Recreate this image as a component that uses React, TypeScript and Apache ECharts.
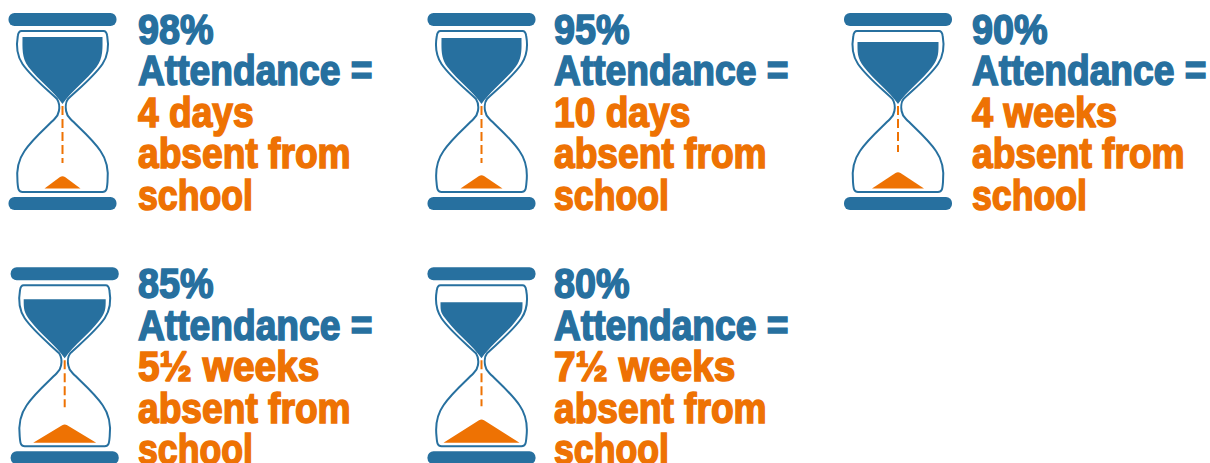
import React, { useEffect, useRef } from "react";
import * as echarts from "echarts";

// Data
const attendance = ["98%", "95%", "90%", "85%", "80%"];
const attendanceWord = "Attendance =";
const absence = ["4 days", "10 days", "4 weeks", "5½ weeks", "7½ weeks"];
const absenceLines = ["absent from", "school"];
// Sand left in the upper bulb: depth of its surface below the glass top
const upperSurface = [6, 7, 11, 14, 17];
const upperHalfWidth = [40, 40, 40.5, 41, 41];
// Falling grain stream end, below the glass top
const streamEnd = [132, 132, 121, 122, 121];
// Pile in the lower bulb
const pileHalfWidth = [18, 21, 26, 31.5, 38];
const pileApex = [145, 144, 141, 139, 134];

// Layout
const centerX = [62.5, 481.5, 898, 64.7, 481.5];
const barTop = [13, 13, 13, 267.3, 267.3];
const textX = [138, 554, 972, 138, 554];
const absenceScale = [0.885, 0.885, 0.9, 0.925, 0.925];
const BLUE = "#27709f";
const ORANGE = "#ee7203";

const glassPath =
  "M-41,0 L41,0 Q44,0 44.7,5 C46.5,15 46,24 40,33 C31,46 16,58 5.5,68 C3,71 3,77 3.6,80 C4,83 5,85 8,88 C18,98 30,108 38,120 C45,130 46,142 45,151 C44.5,158 44,161 40,161 L-40,161 C-44,161 -44.5,158 -45,151 C-46,142 -45,130 -38,120 C-30,108 -18,98 -8,88 C-5,85 -4,83 -3.6,80 C-3,77 -3,72 -5.5,68 C-16,58 -31,46 -40,33 C-46,24 -46.5,15 -44.7,5 Q-44,0 -41,0 Z";

const upperPath = (l: number, w: number) =>
  `M${-w},${l} L${w},${l} C${w},${l + 10} 41,27 34,36 C24,49 9,60 0,73 C-9,60 -24,49 -34,36 C-41,27 ${-w},${l + 10} ${-w},${l} Z`;

const pilePath = (a: number, w: number) =>
  `M${-w},157.5 L-2.5,${a + 1} Q0,${a - 0.6} 2.5,${a + 1} L${w},157.5 Z`;

attendance.forEach((_, i) => {
  echarts.graphic.registerShape(`upper${i}`, echarts.graphic.extendPath(upperPath(upperSurface[i], upperHalfWidth[i]), {}));
  echarts.graphic.registerShape(`pile${i}`, echarts.graphic.extendPath(pilePath(pileApex[i], pileHalfWidth[i]), {}));
});
echarts.graphic.registerShape("glass", echarts.graphic.extendPath(glassPath, {}));

const textLine = (text: string, x: number, baseline: number, fill: string, scaleX = 0.885) => ({
  type: "text",
  x,
  y: baseline - 15,
  scaleX,
  silent: true,
  style: {
    text,
    x: 0,
    y: 0,
    fill,
    stroke: fill,
    lineWidth: 1.6,
    font: 'bold 42px "Liberation Sans"',
    verticalAlign: "middle",
    align: "left",
  },
});

function buildGraphic() {
  const out: any[] = [];
  attendance.forEach((pct, i) => {
    const cx = centerX[i];
    const top = barTop[i];
    out.push({
      type: "group",
      x: cx,
      y: top + 18,
      children: [
        { type: "rect", shape: { x: -54, y: -18, width: 108, height: 13, r: 6 }, style: { fill: BLUE } },
        { type: "rect", shape: { x: -54, y: 166, width: 108, height: 13, r: 6 }, style: { fill: BLUE } },
        { type: "glass", style: { fill: "none", stroke: BLUE, lineWidth: 2 } },
        { type: `upper${i}`, style: { fill: BLUE } },
        {
          type: "line",
          shape: { x1: 0, y1: 75, x2: 0, y2: streamEnd[i] },
          style: { stroke: ORANGE, lineWidth: 2, lineDash: [9, 4] },
        },
        { type: `pile${i}`, style: { fill: ORANGE } },
      ],
    });
    const b = top + 31;
    const x = textX[i];
    out.push(textLine(pct, x, b, BLUE, 0.9));
    out.push(textLine(attendanceWord, x, b + 41.5, BLUE));
    out.push(textLine(absence[i], x, b + 83, ORANGE, absenceScale[i]));
    out.push(textLine(absenceLines[0], x, b + 124.5, ORANGE));
    out.push(textLine(absenceLines[1], x, b + 166, ORANGE, 0.85));
  });
  return out;
}

export default function App() {
  const ref = useRef<HTMLDivElement>(null);
  useEffect(() => {
    document.body.style.margin = "0";
    document.body.style.background = "#fff";
    const chart = echarts.init(ref.current!, null, { renderer: "svg" });
    chart.setOption({ animation: false, backgroundColor: "#ffffff", graphic: { elements: buildGraphic() } });
    return () => chart.dispose();
  }, []);
  return <div ref={ref} style={{ width: 1210, height: 463, overflow: "hidden" }} />;
}
